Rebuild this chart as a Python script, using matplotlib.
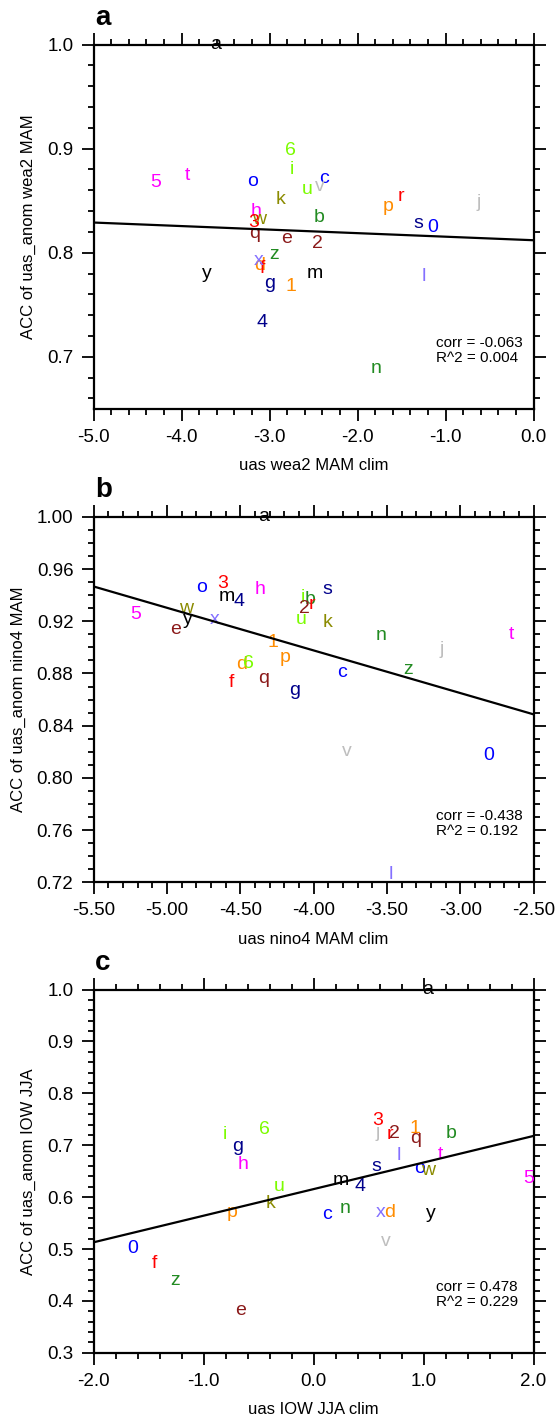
import numpy as np
import matplotlib
matplotlib.use('Agg')
import matplotlib.pyplot as plt
from matplotlib.ticker import MultipleLocator, FormatStrFormatter

plt.rcParams['font.family'] = ['Liberation Sans', 'DejaVu Sans']

# model labels, one character per model
labels = list('abcdefghijklmnopqrstuvwxyz0123456')

# colour cycle used for the labels (repeats every 12 models)
palette = ['#000000', '#228B22', '#0000FF', '#FF8C00', '#8B1A1A', '#FF0000',
           '#00008B', '#FF00FF', '#7CFC00', '#BEBEBE', '#8B8B00', '#8470FF']

# panel a: uas wea2 MAM
xa = [-3.608, -2.441, -2.381, -3.108, -2.812, -3.077, -2.994, -3.153, -2.748, -0.619,
      -2.873, -1.244, -2.480, -1.790, -3.195, -1.650, -3.165, -1.509, -1.309, -3.934,
      -2.570, -2.434, -3.116, -3.119, -3.714, -2.949, -1.150, -2.756, -2.452, -3.184,
      -3.085, -4.290, -2.759]
ya = [1.000, 0.834, 0.871, 0.788, 0.814, 0.785, 0.770, 0.840, 0.880, 0.848,
      0.851, 0.777, 0.780, 0.689, 0.868, 0.844, 0.818, 0.854, 0.828, 0.874,
      0.861, 0.864, 0.832, 0.793, 0.780, 0.798, 0.824, 0.768, 0.809, 0.829,
      0.733, 0.867, 0.898]
fit_a = (-0.0034, 0.812)   # slope, intercept
stats_a = ('-0.063', '0.004')

# panel b: uas nino4 MAM
xb = [-4.342, -4.024, -3.804, -4.490, -4.944, -4.558, -4.126, -4.365, -4.070, -3.126,
      -3.906, -3.471, -4.592, -3.542, -4.762, -4.194, -4.338, -4.012, -3.903, -2.653,
      -4.085, -3.770, -4.869, -4.672, -4.860, -3.354, -2.803, -4.278, -4.065, -4.622,
      -4.506, -5.210, -4.445]
yb = [1.000, 0.937, 0.881, 0.887, 0.914, 0.873, 0.867, 0.944, 0.938, 0.898,
      0.919, 0.726, 0.939, 0.909, 0.946, 0.892, 0.876, 0.933, 0.944, 0.910,
      0.921, 0.820, 0.930, 0.921, 0.921, 0.883, 0.817, 0.904, 0.930, 0.949,
      0.935, 0.925, 0.888]
fit_b = (-0.03267, 0.767)
stats_b = ('-0.438', '0.192')

# panel c: uas IOW JJA
xc = [1.035, 1.247, 0.120, 0.689, -0.659, -1.447, -0.689, -0.644, -0.805, 0.580,
      -0.393, 0.771, 0.250, 0.286, 0.962, -0.738, 0.932, 0.695, 0.574, 1.150,
      -0.311, 0.659, 1.044, 0.614, 1.065, -1.256, -1.647, 0.923, 0.735, 0.580,
      0.423, 1.953, -0.450]
yc = [1.000, 0.722, 0.566, 0.571, 0.381, 0.472, 0.697, 0.662, 0.720, 0.724,
      0.587, 0.681, 0.632, 0.578, 0.656, 0.570, 0.713, 0.720, 0.660, 0.683,
      0.621, 0.514, 0.651, 0.571, 0.569, 0.440, 0.501, 0.733, 0.722, 0.747,
      0.621, 0.636, 0.731]
fit_c = (0.05125, 0.6155)
stats_c = ('0.478', '0.229')


def panel(ax, tag, xs, ys, fit, stats, xlim, ylim, xmaj, xmin, ymaj, ymin,
          xfmt, yfmt, xlabel, ylabel):
    for i, (lab, x, y) in enumerate(zip(labels, xs, ys)):
        ax.text(x, y, lab, color=palette[i % len(palette)], fontsize=14,
                ha='center', va='center', zorder=3)

    xl = np.array(xlim)
    ax.plot(xl, fit[0] * xl + fit[1], color='black', lw=1.6, zorder=4)

    ax.set_xlim(xlim)
    ax.set_ylim(ylim)
    ax.xaxis.set_major_locator(MultipleLocator(xmaj))
    ax.xaxis.set_minor_locator(MultipleLocator(xmin))
    ax.yaxis.set_major_locator(MultipleLocator(ymaj))
    ax.yaxis.set_minor_locator(MultipleLocator(ymin))
    ax.xaxis.set_major_formatter(FormatStrFormatter(xfmt))
    ax.yaxis.set_major_formatter(FormatStrFormatter(yfmt))
    ax.tick_params(which='both', direction='out', top=True, right=True, width=1.3)
    ax.tick_params(which='major', length=8.5, labelsize=13.5, pad=6)
    ax.tick_params(which='minor', length=4.5)
    for s in ax.spines.values():
        s.set_linewidth(1.6)

    ax.set_xlabel(xlabel, fontsize=12, labelpad=9)
    ax.set_ylabel(ylabel, fontsize=12, labelpad=8)

    ax.text(0.778, 0.18, 'corr = ' + stats[0], transform=ax.transAxes,
            fontsize=11, ha='left', va='center')
    ax.text(0.778, 0.139, 'R^2 = ' + stats[1], transform=ax.transAxes,
            fontsize=11, ha='left', va='center')

    ax.annotate(tag, xy=(0, 1), xycoords='axes fraction', xytext=(1, 10),
                textcoords='offset points', fontsize=20, fontweight='bold',
                ha='left', va='bottom')


fig = plt.figure(figsize=(5.55, 14.2), dpi=100)
left, width = 0.1685, 0.7928
ax1 = fig.add_axes([left, 0.7121, width, 0.2565])
ax2 = fig.add_axes([left, 0.3787, width, 0.2573])
ax3 = fig.add_axes([left, 0.0473, width, 0.2558])

panel(ax1, 'a', xa, ya, fit_a, stats_a, (-5.0, 0.0), (0.65, 1.0), 1.0, 0.2, 0.1, 0.02,
      '%.1f', '%.1f', 'uas wea2 MAM clim', 'ACC of uas_anom wea2 MAM')
panel(ax2, 'b', xb, yb, fit_b, stats_b, (-5.5, -2.5), (0.72, 1.0), 0.5, 0.1, 0.04, 0.01,
      '%.2f', '%.2f', 'uas nino4 MAM clim', 'ACC of uas_anom nino4 MAM')
panel(ax3, 'c', xc, yc, fit_c, stats_c, (-2.0, 2.0), (0.3, 1.0), 1.0, 0.2, 0.1, 0.02,
      '%.1f', '%.1f', 'uas IOW JJA clim', 'ACC of uas_anom IOW JJA')

fig.savefig('out.png', dpi=100)
